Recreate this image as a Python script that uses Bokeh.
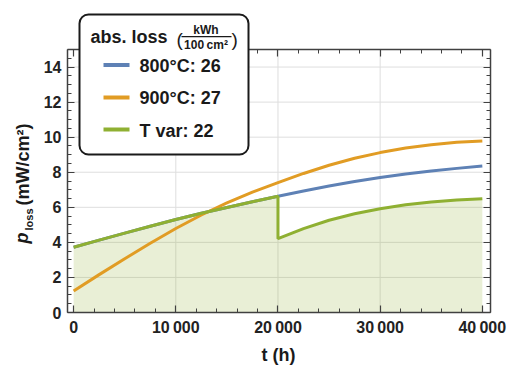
from bokeh.plotting import figure
from bokeh.models import Range1d, LinearAxis, FixedTicker, BoxAnnotation, Label
from bokeh.embed import file_html
from bokeh.resources import INLINE
import math

# ---------------- data ----------------
t_full = [0, 2500, 5000, 7500, 10000, 12500, 15000, 17500, 20000,
          22500, 25000, 27500, 30000, 32500, 35000, 37500, 40000]
p_800 = [3.72, 4.13, 4.53, 4.92, 5.30, 5.66, 5.99, 6.32, 6.63,
         6.93, 7.21, 7.47, 7.70, 7.90, 8.07, 8.22, 8.36]
p_900 = [1.22, 2.16, 3.07, 3.95, 4.79, 5.56, 6.25, 6.86, 7.41,
         7.93, 8.40, 8.80, 9.12, 9.38, 9.57, 9.71, 9.78]
t_var = [0, 2500, 5000, 7500, 10000, 12500, 15000, 17500, 20000,
         20000, 22500, 25000, 27500, 30000, 32500, 35000, 37500, 40000]
p_var = [3.72, 4.13, 4.53, 4.92, 5.30, 5.66, 5.99, 6.32, 6.63,
         4.21, 4.78, 5.26, 5.63, 5.92, 6.14, 6.30, 6.42, 6.49]

series_names = ["800°C: 26", "900°C: 27", "T var: 22"]
x_ticks = [0, 10000, 20000, 30000, 40000]
x_tick_labels = ["0", "10\u2009000", "20\u2009000", "30\u2009000", "40\u2009000"]
x_minor = list(range(0, 40001, 2000))
x_grid = [10000, 20000, 30000]
y_ticks = [0, 2, 4, 6, 8, 10, 12, 14]
y_minor = [i * 0.5 for i in range(0, 31)]
y_grid = [2, 4, 6, 8, 10, 12, 14]

BLUE = "#5E81B5"
ORANGE = "#E19C24"
GREEN = "#8FB032"
FONT = "Liberation Sans"
FRAME = "#404040"
INK = "#1a1a1a"

# ---------------- layout ----------------
W, H = 510, 365
BX0, BX1 = -600, 40800      # plot box in data units
BY0, BY1 = 0, 15
FL, FR, FT, FB = 67, 490, 49, 312   # plot box edges in canvas px
sx = (BX1 - BX0) / (FR - FL)
sy = (BY1 - BY0) / (FB - FT)
X_lo, X_hi = BX0 - FL * sx, BX1 + (W - FR) * sx
Y_lo, Y_hi = BY0 - (H - FB) * sy, BY1 + FT * sy


def px2x(px):
    return X_lo + px * sx


def px2y(py):
    return Y_hi - py * sy


p = figure(width=W, height=H, x_range=Range1d(X_lo, X_hi), y_range=Range1d(Y_lo, Y_hi),
           output_backend="svg", toolbar_location=None,
           min_border=0, min_border_left=0, min_border_right=0,
           min_border_top=0, min_border_bottom=0)
p.background_fill_color = "white"
p.border_fill_color = "white"
p.outline_line_color = None
p.xgrid.visible = False
p.ygrid.visible = False


def style_axis(ax, labels=True):
    ax.axis_line_color = FRAME
    ax.axis_line_width = 1.5
    ax.major_tick_in = 7
    ax.major_tick_out = 0
    ax.minor_tick_in = 4
    ax.minor_tick_out = 0
    ax.major_tick_line_color = FRAME
    ax.minor_tick_line_color = FRAME
    ax.major_tick_line_width = 1.2
    ax.minor_tick_line_width = 1.0
    ax.axis_label = None
    if labels:
        ax.major_label_text_font = FONT
        ax.major_label_text_font_style = "bold"
        ax.major_label_text_font_size = "16px"
        ax.major_label_text_color = "#222222"
        ax.major_label_standoff = 6
    else:
        ax.major_label_text_color = None


xb = p.xaxis[0]
xb.ticker = FixedTicker(ticks=x_ticks, minor_ticks=x_minor)
xb.major_label_overrides = dict(zip(x_ticks, x_tick_labels))
xb.fixed_location = BY0
xb.bounds = (BX0, BX1)
style_axis(xb)

yl = p.yaxis[0]
yl.ticker = FixedTicker(ticks=y_ticks, minor_ticks=y_minor)
yl.fixed_location = BX0
yl.bounds = (BY0, BY1)
style_axis(yl)

xt = LinearAxis(ticker=FixedTicker(ticks=x_ticks, minor_ticks=x_minor),
                fixed_location=BY1, bounds=(BX0, BX1))
style_axis(xt, labels=False)
p.add_layout(xt, "above")

yr = LinearAxis(ticker=FixedTicker(ticks=y_ticks, minor_ticks=y_minor),
                fixed_location=BX1, bounds=(BY0, BY1))
style_axis(yr, labels=False)
p.add_layout(yr, "right")

# grid lines (limited to the plot box)
GRID = "#dedede"
p.segment(x0=x_grid, x1=x_grid, y0=[BY0] * len(x_grid), y1=[BY1] * len(x_grid),
          line_color=GRID, line_width=1, level="underlay")
p.segment(x0=[BX0] * len(y_grid), x1=[BX1] * len(y_grid), y0=y_grid, y1=y_grid,
          line_color=GRID, line_width=1, level="underlay")

# ---------------- data glyphs ----------------
p.varea(x=t_var, y1=0, y2=p_var, fill_color=GREEN, fill_alpha=0.2)
p.line(t_full, p_800, line_color=BLUE, line_width=3)
p.line(t_full, p_900, line_color=ORANGE, line_width=3)
p.line(t_var, p_var, line_color=GREEN, line_width=3)

# ---------------- legend (manual) ----------------
p.add_layout(BoxAnnotation(left=px2x(79), right=px2x(248), top=px2y(14), bottom=px2y(154),
                           fill_color="white", fill_alpha=1.0,
                           line_color=INK, line_alpha=1.0, line_width=2, border_radius=9))

SHIFT = 0.35  # baseline correction (fraction of font size)


def lab(text, xpx, base_px, size, style="bold", align="left", color=INK):
    """horizontal text; base_px = desired baseline (canvas px)"""
    p.add_layout(Label(x=px2x(xpx), y=px2y(base_px - SHIFT * size), text=text,
                       text_font=FONT, text_font_style=style,
                       text_font_size=f"{size}px", text_align=align,
                       text_baseline="alphabetic", text_color=color))


def vlab(text, base_x, start_y, size, style="bold", color=INK):
    """text rotated 90deg (reads upward); base_x = baseline column, start_y = start"""
    p.add_layout(Label(x=px2x(base_x - SHIFT * size), y=px2y(start_y), text=text,
                       text_font=FONT, text_font_style=style,
                       text_font_size=f"{size}px", text_align="left",
                       text_baseline="alphabetic", angle=math.pi / 2, text_color=color))


lab("abs. loss", 90, 42.3, 18)
lab("(", 176, 45.5, 19, style="normal")
lab(")", 231, 45.5, 19, style="normal")
lab("kWh", 205.5, 34, 12, align="center")
lab("100\u2009cm²", 205.5, 48.5, 12, align="center")
p.add_layout(BoxAnnotation(left=px2x(181), right=px2x(231), top=px2y(35.5), bottom=px2y(36.7),
                           fill_color=INK, fill_alpha=1.0, line_color=None))

colors = [BLUE, ORANGE, GREEN]
row_line_y = [64.5, 97, 129]
row_text_y = [71.7, 104, 136.3]
for name, c, ly, ty in zip(series_names, colors, row_line_y, row_text_y):
    p.add_layout(BoxAnnotation(left=px2x(103), right=px2x(129), top=px2y(ly - 2), bottom=px2y(ly + 2),
                               fill_color=c, fill_alpha=1.0, line_color=None))
    lab(name, 139, ty, 18)

# ---------------- axis titles (manual) ----------------
lab("t (h)", 278, 361, 18, align="center")
vlab("p", 27.5, 243, 18, style="bold italic")
vlab("loss", 32, 230, 11)
vlab("(mW/cm²)", 28.5, 205, 18)

open("out.html", "w").write(file_html(p, INLINE))
